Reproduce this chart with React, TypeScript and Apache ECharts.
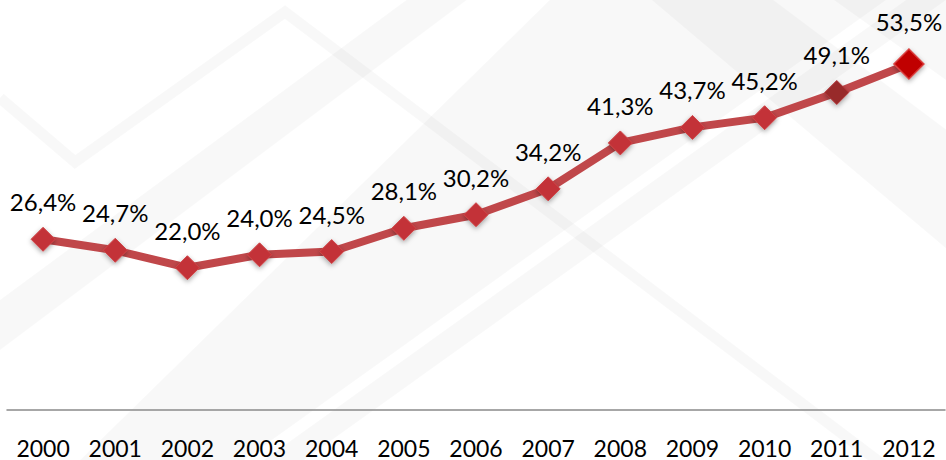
import React, { useEffect, useRef } from "react";
import * as echarts from "echarts";

const years = ["2000", "2001", "2002", "2003", "2004", "2005", "2006", "2007", "2008", "2009", "2010", "2011", "2012"];
const shares = [26.4, 24.7, 22.0, 24.0, 24.5, 28.1, 30.2, 34.2, 41.3, 43.7, 45.2, 49.1, 53.5];

const FONT = "Lato, 'Open Sans', sans-serif";

export default function App() {
  const ref = useRef<HTMLDivElement>(null);
  useEffect(() => {
    if (!ref.current) return;
    const chart = echarts.init(ref.current, null, { renderer: "svg" });
    const n = shares.length;
    const data = shares.map((v, i) => {
      const item: any = { value: v };
      if (i === n - 2) {
        item.itemStyle = { color: "#98292b", borderColor: "#b03536" };
      }
      if (i === n - 1) {
        item.symbolSize = 30;
        item.itemStyle = { color: "#c00000", borderColor: "#d9403f", borderWidth: 1.5 };
        item.label = { distance: 15 };
      }
      return item;
    });
    const band = "rgba(0,0,0,0.028)";
    chart.setOption({
      animation: false,
      backgroundColor: "#ffffff",
      graphic: [
        { type: "polyline", silent: true, z: -10, shape: { points: [[0, 98], [75, 162], [285, 12], [890, 470]] }, style: { stroke: band, lineWidth: 11, fill: null } },
        { type: "polygon", silent: true, z: -10, shape: { points: [[0, 300], [0, 350], [480, -10], [420, -10]] }, style: { fill: band } },
        { type: "polygon", silent: true, z: -10, shape: { points: [[70, 470], [230, 470], [900, -10], [560, -10]] }, style: { fill: band } },
        { type: "polygon", silent: true, z: -10, shape: { points: [[250, 470], [290, 470], [960, -10], [920, -10]] }, style: { fill: band } },
        { type: "polygon", silent: true, z: -10, shape: { points: [[640, -10], [760, -10], [960, 140], [960, 260]] }, style: { fill: band } },
        { type: "polygon", silent: true, z: -10, shape: { points: [[820, -10], [960, -10], [960, 90]] }, style: { fill: band } },
      ],
      grid: { left: 7, right: 1, top: 22, bottom: 50 },
      xAxis: {
        type: "category",
        data: years,
        boundaryGap: true,
        axisLine: { show: true, lineStyle: { color: "#8a8a8a", width: 1.5 } },
        axisTick: { show: false },
        axisLabel: { color: "#000", fontFamily: FONT, fontSize: 23, margin: 26 },
      },
      yAxis: {
        type: "value",
        min: 0,
        max: 60,
        show: false,
        splitLine: { show: false },
      },
      series: [
        {
          type: "line",
          data,
          symbol: "diamond",
          symbolSize: 24,
          lineStyle: { color: "#c0474a", width: 8 },
          itemStyle: {
            color: "#c33338",
            borderColor: "#cf4346",
            borderWidth: 1,
            shadowBlur: 5,
            shadowColor: "rgba(0,0,0,0.35)",
            shadowOffsetY: 2,
          },
          label: {
            show: true,
            position: "top",
            distance: 13,
            color: "#000",
            fontFamily: FONT,
            fontSize: 24,
            formatter: (p: any) => p.value.toFixed(1).replace(".", ",") + "%",
          },
        },
      ],
    });
    return () => chart.dispose();
  }, []);
  return <div ref={ref} style={{ width: 946, height: 460, position: "fixed", left: 0, top: 0 }} />;
}
